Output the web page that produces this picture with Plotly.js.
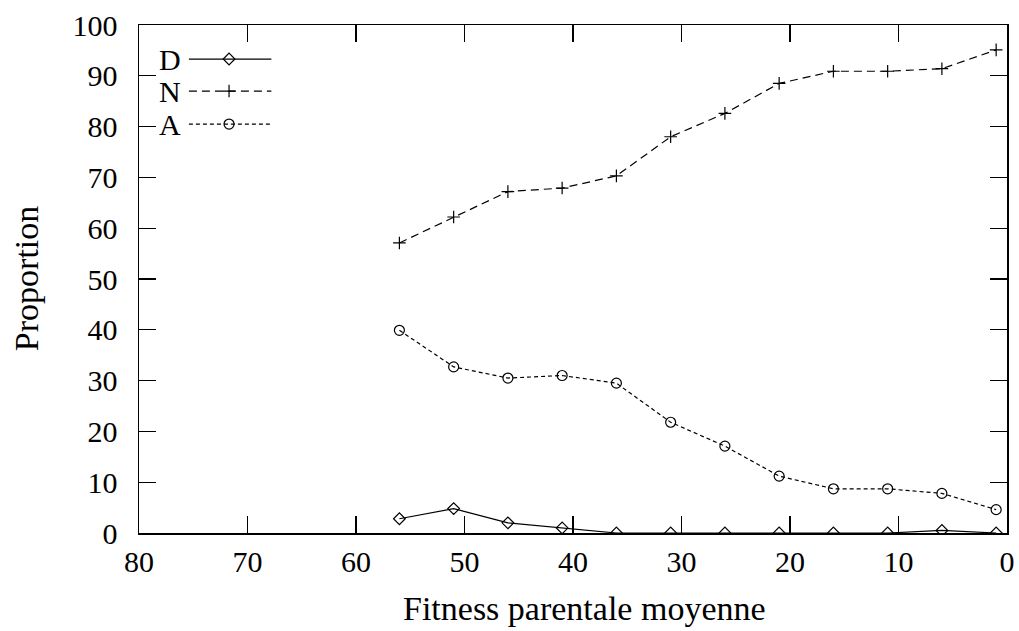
<!DOCTYPE html>
<html>
<head>
<meta charset="utf-8">
<script src="https://cdn.plot.ly/plotly-3.0.1.min.js"></script>
<style>html,body{margin:0;padding:0;background:#fff;}#chart{width:1019px;height:631px;}</style>
</head>
<body>
<div id="chart"></div>
<script>
// Data
const fitness = [56, 51, 46, 41, 36, 31, 26, 21, 16, 11, 6, 1];
const seriesD = [2.8, 4.8, 2.0, 1.0, 0, 0, 0, 0, 0, 0, 0.5, 0];
const seriesN = [57.1, 62.2, 67.2, 67.9, 70.3, 78.0, 82.6, 88.5, 90.9, 90.9, 91.4, 95.1];
const seriesA = [39.9, 32.7, 30.5, 31.0, 29.5, 21.8, 17.1, 11.2, 8.7, 8.7, 7.8, 4.6];
const seriesNames = ["D", "N", "A"];
const xTicks = [80, 70, 60, 50, 40, 30, 20, 10, 0];
const yTicks = [0, 10, 20, 30, 40, 50, 60, 70, 80, 90, 100];

const FONT = '"Liberation Serif", "Times New Roman", serif';
const styles = [
  {symbol: "diamond-open", size: 9, dash: "solid"},
  {symbol: "cross-thin-open", size: 9, dash: "8px,5px"},
  {symbol: "circle-open", size: 10, dash: "4px,3px"}
];
const seriesVals = [seriesD, seriesN, seriesA];

const traces = seriesVals.map((vals, i) => ({
  x: fitness, y: vals, type: "scatter", mode: "lines+markers",
  name: seriesNames[i], showlegend: false,
  line: {color: "#000", width: 1.2, dash: styles[i].dash},
  marker: {symbol: styles[i].symbol, size: styles[i].size, color: "#000",
           line: {color: "#000", width: 1.2}}
}));

// Custom legend (gnuplot style: label on the left, sample on the right)
const legX = [75.4, 71.7, 67.8];
const legY = [93.3, 87.0, 80.5];
const legLabelX = 75.9;
const annotations = [];
seriesNames.forEach((nm, i) => {
  traces.push({
    x: legX, y: [legY[i], legY[i], legY[i]], type: "scatter", mode: "lines+markers",
    showlegend: false, hoverinfo: "skip",
    line: {color: "#000", width: 1.2, dash: styles[i].dash},
    marker: {symbol: styles[i].symbol, size: [0, styles[i].size, 0], color: "#000",
             opacity: [0, 1, 0], line: {color: "#000", width: 1.2}}
  });
  annotations.push({x: legLabelX, y: legY[i], xref: "x", yref: "y", text: nm,
    showarrow: false, xanchor: "right", yanchor: "middle",
    font: {family: FONT, size: 30, color: "#000"}});
});

annotations.push({x: 0.513, y: -0.148, xref: "paper", yref: "paper",
  text: "Fitness parentale moyenne", showarrow: false, xanchor: "center", yanchor: "middle",
  font: {family: FONT, size: 34, color: "#000"}});
annotations.push({x: -0.13, y: 0.5, xref: "paper", yref: "paper",
  text: "Proportion", showarrow: false, textangle: -90, xanchor: "center", yanchor: "middle",
  font: {family: FONT, size: 34, color: "#000"}});

const axisCommon = {
  showgrid: false, zeroline: false, showline: true, linecolor: "#000", linewidth: 1.5,
  mirror: "ticks", ticks: "inside", ticklen: 17, tickwidth: 1.2, tickcolor: "#000",
  tickfont: {family: FONT, size: 30, color: "#000"}, tickmode: "array"
};

const layout = {
  width: 1019, height: 631,
  margin: {l: 139, r: 12, t: 25, b: 98},
  paper_bgcolor: "#fff", plot_bgcolor: "#fff",
  xaxis: Object.assign({}, axisCommon, {range: [80, 0], tickvals: xTicks, ticktext: xTicks.map(String), ticklabelstandoff: 1}),
  yaxis: Object.assign({}, axisCommon, {range: [0, 100], tickvals: yTicks, ticktext: yTicks.map(String), ticklabelstandoff: 14}),
  annotations: annotations,
  showlegend: false
};

Plotly.newPlot("chart", traces, layout, {displayModeBar: false, staticPlot: true});
</script>
</body>
</html>
